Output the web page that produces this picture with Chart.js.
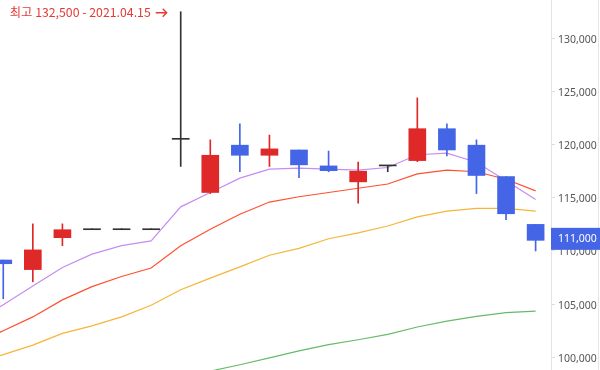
<!DOCTYPE html>
<html>
<head>
<meta charset="utf-8">
<script src="https://cdn.jsdelivr.net/npm/chart.js@4/dist/chart.umd.min.js"></script>
<style>
  html, body { margin: 0; padding: 0; background: #fff; }
</style>
</head>
<body>
<canvas id="chart" width="600" height="370"></canvas>
<script>
// candles, left to right (index 0 is cut by the left edge)
const days   = [0, 1, 2, 3, 4, 5, 6, 7, 8, 9, 10, 11, 12, 13, 14, 15, 16, 17, 18];
const opens  = [109150, 108250, 111250, 112000, 112000, 112000, 120500, 115500, 119950, 119000, 119500, 118000, 116500, 118000, 118500, 121500, 119950, 117000, 112500];
const closes = [108800, 110100, 112000, 112000, 112000, 112000, 120500, 119000, 119000, 119600, 118100, 117550, 117500, 118000, 121500, 119500, 117100, 113500, 111000];
const highs  = [109150, 112550, 112550, 112000, 112000, 112000, 132500, 120450, 121950, 120900, 119500, 119400, 118350, 118000, 124400, 121950, 120450, 117000, 112500];
const lows   = [105500, 107100, 110500, 112000, 112000, 112000, 117950, 115400, 117450, 117950, 116900, 117450, 114500, 117450, 118400, 118950, 115400, 112950, 110000];

// moving averages, one more point on the left (day -1)
const maDays = [-1, 0, 1, 2, 3, 4, 5, 6, 7, 8, 9, 10, 11, 12, 13, 14, 15, 16, 17, 18];
const ma5  = [103200, 104950, 106700, 108450, 109700, 110500, 110950, 114150, 115500, 116850, 117700, 117800, 117700, 117600, 117850, 119050, 119200, 118350, 116600, 114850];
const ma10 = [101200, 102500, 103800, 105400, 106650, 107600, 108400, 110500, 112050, 113450, 114600, 115100, 115500, 115900, 116300, 117250, 117600, 117450, 116750, 115650];
const ma20 = [99350, 100250, 101150, 102250, 102950, 103800, 104900, 106350, 107450, 108500, 109600, 110250, 111150, 111700, 112350, 113200, 113750, 114000, 114000, 113750];
const ma60 = [null, null, null, null, null, null, null, 98050, 98700, 99300, 99950, 100600, 101200, 101650, 102150, 102850, 103400, 103850, 104200, 104350];

const yTicks = [100000, 105000, 110000, 115000, 120000, 125000, 130000];
const highText = "최고 132,500 - 2021.04.15";
const highDay = 6;

const UP = "#df2828", DOWN = "#4466e6", FLAT = "#333333";
const candleColor = days.map((d, i) =>
  closes[i] > opens[i] ? UP : closes[i] < opens[i] ? DOWN : FLAT);

function maLine(values, color) {
  return {
    type: "line",
    data: maDays.map((d, i) => ({ x: d, y: values[i] })),
    borderColor: color,
    borderWidth: 1.2,
    pointRadius: 0,
    tension: 0,
    order: 2,
  };
}

const extras = {
  id: "extras",
  afterDraw(chart) {
    const { ctx, chartArea, scales } = chart;
    const x = scales.x, y = scales.y;
    ctx.save();
    // right frame line
    ctx.strokeStyle = "#e6e6e6";
    ctx.lineWidth = 1;
    ctx.beginPath();
    ctx.moveTo(598.5, 0);
    ctx.lineTo(598.5, chart.height);
    ctx.stroke();

    // high annotation with arrow
    const ax = x.getPixelForValue(highDay) - 14;
    const ay = y.getPixelForValue(highs[highDay]) + 1;
    ctx.strokeStyle = "#e53935";
    ctx.lineWidth = 1.3;
    ctx.beginPath();
    ctx.moveTo(ax - 11, ay);
    ctx.lineTo(ax, ay);
    ctx.moveTo(ax - 4, ay - 4);
    ctx.lineTo(ax, ay);
    ctx.lineTo(ax - 4, ay + 4);
    ctx.stroke();
    ctx.font = '12.3px "Noto Sans CJK KR"';
    ctx.fillStyle = "#e53935";
    ctx.textAlign = "right";
    ctx.textBaseline = "middle";
    ctx.fillText(highText, ax - 16, ay);

    // current price badge
    const last = closes[closes.length - 1];
    const py = y.getPixelForValue(last) - 1.5;
    ctx.fillStyle = DOWN;
    ctx.fillRect(chartArea.right, py - 11, chart.width - chartArea.right, 22);
    ctx.fillStyle = "#fff";
    ctx.textAlign = "left";
    ctx.font = '10.5px "Noto Sans"';
    ctx.fillText(last.toLocaleString("en-US"), chartArea.right + 7, py + 0.5);
    ctx.restore();
  },
};

new Chart(document.getElementById("chart"), {
  type: "bar",
  data: {
    datasets: [
      {
        data: days.map((d, i) => ({ x: d, y: [opens[i], closes[i]] })),
        backgroundColor: candleColor,
        barThickness: 17,
        minBarLength: 1,
        grouped: false,
        order: 0,
      },
      {
        data: days.map((d, i) => ({ x: d, y: [lows[i], highs[i]] })),
        backgroundColor: candleColor,
        barThickness: 1,
        minBarLength: 1,
        grouped: false,
        order: 1,
      },
      maLine(ma60, "#66bb6a"),
      maLine(ma20, "#f5b53a"),
      maLine(ma10, "#ff5030"),
      maLine(ma5, "#c78cf2"),
    ],
  },
  options: {
    responsive: false,
    animation: false,
    devicePixelRatio: 1,
    layout: { padding: 0 },
    plugins: { legend: { display: false }, tooltip: { enabled: false } },
    scales: {
      x: {
        type: "linear",
        display: false,
        min: -0.11,
        max: 18.52,
        offset: false,
      },
      y: {
        position: "right",
        min: 98806,
        max: 133604,
        grid: { drawOnChartArea: false, drawTicks: true, tickLength: 4, color: "#dddddd" },
        border: { color: "#e3e3e3" },
        ticks: {
          color: "#555",
          padding: 3,
          labelOffset: 1.5,
          font: { family: "Noto Sans", size: 10.5 },
          callback: (v) => v.toLocaleString("en-US"),
        },
        afterBuildTicks: (s) => { s.ticks = yTicks.map((v) => ({ value: v })); },
        afterFit: (s) => { s.width = 49; s.paddingTop = 0; s.paddingBottom = 0; },
      },
    },
  },
  plugins: [extras],
});
</script>
</body>
</html>
